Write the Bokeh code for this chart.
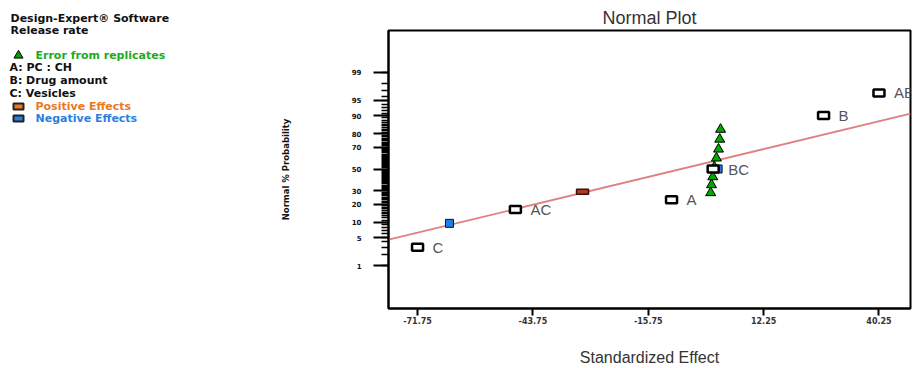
from statistics import NormalDist
from bokeh.plotting import figure
from bokeh.layouts import row
from bokeh.models import Range1d, FixedTicker
from bokeh.core.properties import value
from bokeh.embed import file_html
from bokeh.resources import INLINE

# ---------------- data ----------------
effect_labels = ["C", "AC", "A", "BC", "B", "AB"]
effect_x = [-71.75, -48.0, -10.1, 0.0, 26.8, 40.25]
effect_pct = [3.0, 16.5, 23.1, 50.0, 90.0, 96.6]

negative_x = [-64.0, 1.2]
negative_pct = [9.6, 50.0]

positive_x = [-31.7]
positive_pct = [29.2]

error_x = [1.8, 1.6, 1.3, 0.8, 0.3, -0.1, -0.4, -0.6]
error_pct = [82.9, 76.2, 68.3, 60.3, 51.9, 42.5, 35.2, 28.4]

fit_x = [-78.8, 47.9]
fit_pct = [4.5, 90.8]

x_ticks = [-71.75, -43.75, -15.75, 12.25, 40.25]
x_tick_labels = ["-71.75", "-43.75", "-15.75", "12.25", "40.25"]
y_tick_pct = [1, 5, 10, 20, 30, 50, 70, 80, 90, 95, 99]
y_minor_pct = list(range(1, 100))

legend_lines = ["Design-Expert\u00ae Software", "Release rate", "Error from replicates",
                "A: PC : CH", "B: Drug amount", "C: Vesicles",
                "Positive Effects", "Negative Effects"]
legend_colors = ["#111111", "#111111", "#22aa22", "#111111", "#111111", "#111111",
                 "#e8791e", "#2a7fe0"]

nd = NormalDist()
def z(p):
    return nd.inv_cdf(p / 100.0)

H = 368
TOP, BOTTOM = 30, 57

# ---------------- legend panel ----------------
LW = 250
leg = figure(width=LW, height=H, x_range=Range1d(0, LW), y_range=Range1d(H, 0),
             x_axis_type=None, y_axis_type=None, toolbar_location=None,
             output_backend="svg", outline_line_color=None, frame_align=False,
             min_border_left=0, min_border_right=0, min_border_top=0, min_border_bottom=0)
leg.grid.visible = False
leg_x = [10, 10, 35, 9, 9, 9, 35, 35]
leg_y = [18, 30, 55, 67, 80, 93, 106, 118]
leg.text(x=leg_x, y=leg_y, text=legend_lines, text_color=legend_colors,
         text_font=value("DejaVu Sans"), text_font_size="11px", text_font_style="bold",
         text_baseline="middle", text_align="left")
leg.scatter(x=[18], y=[55], marker="triangle", size=9, fill_color="#00a000",
            line_color="black", line_width=1)
leg.rect(x=[18], y=[106], width=10, height=6, width_units="screen", height_units="screen",
         fill_color="#e8791e", line_color="#222222", line_width=2)
leg.rect(x=[18], y=[118], width=10, height=6, width_units="screen", height_units="screen",
         fill_color="#2a7fe0", line_color="#222222", line_width=2)

# ---------------- main plot ----------------
p = figure(width=921 - LW, height=H, toolbar_location=None, output_backend="svg",
           x_range=Range1d(-78.8, 47.9), y_range=Range1d(-3.349, 3.325),
           min_border_left=138, min_border_right=11, min_border_top=TOP,
           min_border_bottom=BOTTOM, title="Normal Plot", frame_align=False)
p.grid.visible = False
p.outline_line_color = "black"
p.outline_line_width = 2
p.background_fill_color = "white"

p.title.align = "center"
p.title.text_font = "Liberation Sans"
p.title.text_font_size = "18px"
p.title.text_font_style = "normal"
p.title.text_color = "#333333"
p.title.standoff = 5

# x axis
p.xaxis.ticker = FixedTicker(ticks=x_ticks)
p.xaxis.major_label_overrides = {t: l for t, l in zip(x_ticks, x_tick_labels)}
p.xaxis.major_tick_out = 7
p.xaxis.major_tick_in = 0
p.xaxis.minor_tick_out = 0
p.xaxis.minor_tick_in = 0
p.xaxis.major_tick_line_width = 2
p.xaxis.axis_line_width = 2
p.xaxis.major_label_text_font = "DejaVu Sans"
p.xaxis.major_label_text_font_size = "8px"
p.xaxis.major_label_text_font_style = "bold"
p.xaxis.major_label_text_color = "#333333"
p.xaxis.major_label_standoff = 1
p.xaxis.axis_label = "Standardized Effect"
p.xaxis.axis_label_text_font = "Liberation Sans"
p.xaxis.axis_label_text_font_size = "16px"
p.xaxis.axis_label_text_font_style = "normal"
p.xaxis.axis_label_text_color = "#333333"
p.xaxis.axis_label_standoff = 22

# y axis (normal probability)
p.yaxis.ticker = FixedTicker(ticks=[z(v) for v in y_tick_pct],
                             minor_ticks=[z(v) for v in y_minor_pct])
p.yaxis.major_label_overrides = {z(v): str(v) for v in y_tick_pct}
p.yaxis.major_tick_out = 15
p.yaxis.major_tick_in = 0
p.yaxis.minor_tick_out = 7
p.yaxis.minor_tick_in = 0
p.yaxis.major_tick_line_width = 2
p.yaxis.minor_tick_line_width = 1.5
p.yaxis.minor_tick_line_color = "black"
p.yaxis.axis_line_width = 2
p.yaxis.major_label_text_font = "DejaVu Sans"
p.yaxis.major_label_text_font_size = "7px"
p.yaxis.major_label_text_font_style = "bold"
p.yaxis.major_label_text_color = "#111111"
p.yaxis.major_label_standoff = 12
p.yaxis.axis_label = "Normal % Probability"
p.yaxis.axis_label_text_font = "DejaVu Sans"
p.yaxis.axis_label_text_font_size = "8.5px"
p.yaxis.axis_label_text_font_style = "bold"
p.yaxis.axis_label_text_color = "#111111"
p.yaxis.axis_label_standoff = 58

# fitted line
p.line(x=fit_x, y=[z(v) for v in fit_pct], line_color="#e08080", line_width=1.8)

# error triangles
p.scatter(x=error_x, y=[z(v) for v in error_pct], marker="triangle", size=10,
          fill_color="#00a800", line_color="black", line_width=1)

# negative effects
p.rect(x=negative_x, y=[z(v) for v in negative_pct], width=8, height=8,
       width_units="screen", height_units="screen",
       fill_color="#1e7fe6", line_color="#111111", line_width=1)

# positive effects
p.rect(x=positive_x, y=[z(v) for v in positive_pct], width=12, height=5,
       width_units="screen", height_units="screen",
       fill_color="#b03a20", line_color="#3a1010", line_width=1.5)

# labelled effects
ez = [z(v) for v in effect_pct]
p.rect(x=effect_x, y=ez, width=11, height=7, width_units="screen", height_units="screen",
       fill_color="white", line_color="black", line_width=2.5)
p.text(x=effect_x, y=ez, text=effect_labels, x_offset=15, text_baseline="middle",
       text_align="left", text_font=value("Liberation Sans"), text_font_size="15px",
       text_color="#555555")

layout = row(leg, p, spacing=0)
open("out.html", "w").write(file_html(layout, INLINE))
